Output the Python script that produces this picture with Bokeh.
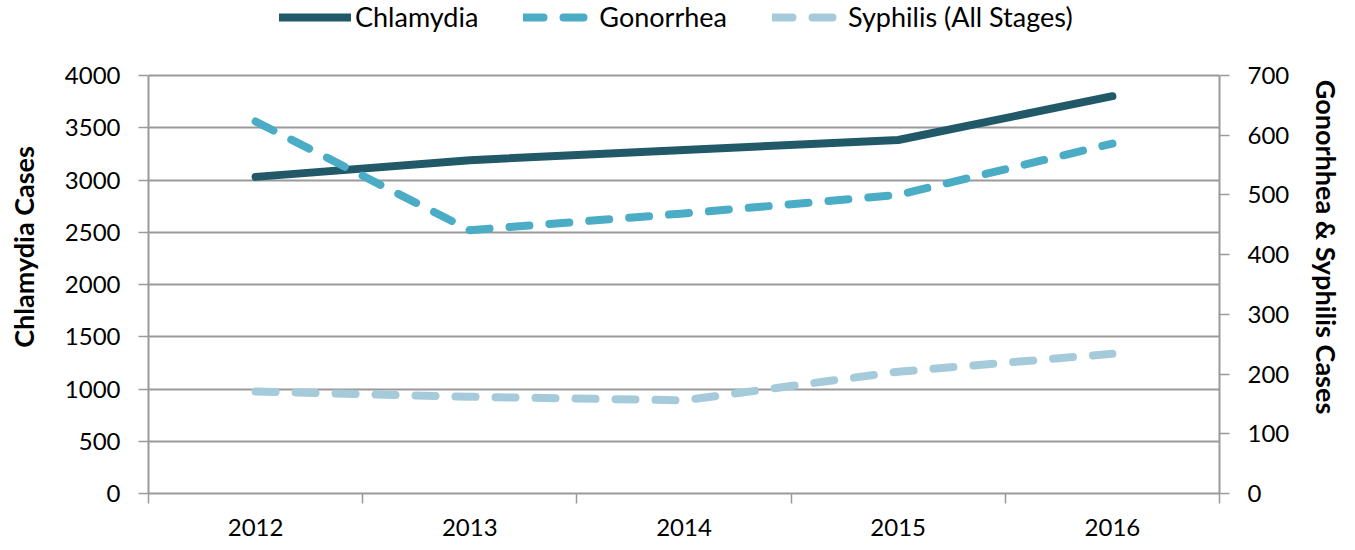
from bokeh.plotting import figure
from bokeh.models import Range1d, LinearAxis, FixedTicker, Legend, LegendItem
from bokeh.embed import file_html
from bokeh.resources import INLINE

years = ["2012", "2013", "2014", "2015", "2016"]
chlamydia = [3030, 3190, 3287, 3383, 3802]
gonorrhea = [623, 441, 469, 500, 586]
syphilis = [171, 162, 156, 204, 234]
left_ticks = [0, 500, 1000, 1500, 2000, 2500, 3000, 3500, 4000]
right_ticks = [0, 100, 200, 300, 400, 500, 600, 700]

x = list(range(1, len(years) + 1))
bounds = [v - 0.5 for v in x] + [x[-1] + 0.5]

FONT = "Lato"
AX = "#9a9a9a"

W, H = 1347, 542
LEFT, RIGHT, BOTTOM = 148, 1219, 493   # frame edges in px (frame top = 0)
DATA_TOP = 75                          # px where the top tick sits
LMAX, RMAX = left_ticks[-1], right_ticks[-1]
stretch = BOTTOM / (BOTTOM - DATA_TOP)

p = figure(width=W, height=H, x_range=Range1d(0.5, len(years) + 0.5),
           y_range=Range1d(0, LMAX * stretch), output_backend="svg",
           toolbar_location=None,
           min_border_left=LEFT, min_border_right=W - RIGHT,
           min_border_top=0, min_border_bottom=H - BOTTOM)
p.outline_line_color = None
p.extra_y_ranges = {"right": Range1d(0, RMAX * stretch)}

# x axis
xa = p.xaxis[0]
xa.ticker = FixedTicker(ticks=x, minor_ticks=bounds)
xa.major_label_overrides = {v: y for v, y in zip(x, years)}
xa.major_tick_out = 0
xa.major_tick_in = 0
xa.minor_tick_out = 10
xa.minor_tick_in = 0
xa.minor_tick_line_color = AX
xa.axis_line_color = AX
xa.axis_line_width = 2
xa.minor_tick_line_width = 1.5
xa.major_label_standoff = 15
xa.major_label_text_font = FONT
xa.major_label_text_font_size = "24px"
xa.major_label_text_color = "black"

# left axis
ya = p.yaxis[0]
ya.ticker = FixedTicker(ticks=left_ticks)
ya.bounds = (0, LMAX)
ya.minor_tick_line_color = None
ya.minor_tick_out = 0
ya.major_tick_out = 10
ya.major_tick_in = 0
ya.major_tick_line_color = AX
ya.major_tick_line_width = 1.5
ya.axis_line_color = AX
ya.axis_line_width = 2
ya.major_label_standoff = 18
ya.major_label_text_font = FONT
ya.major_label_text_font_size = "24px"
ya.major_label_text_color = "black"
ya.axis_label = "Chlamydia Cases"
ya.axis_label_text_font = FONT
ya.axis_label_text_font_style = "bold"
ya.axis_label_text_font_size = "27px"
ya.axis_label_text_color = "black"
ya.axis_label_standoff = 22

# right axis
ra = LinearAxis(y_range_name="right", ticker=FixedTicker(ticks=right_ticks))
ra.bounds = (0, RMAX)
ra.minor_tick_line_color = None
ra.minor_tick_out = 0
ra.major_tick_out = 10
ra.major_tick_in = 0
ra.major_tick_line_color = AX
ra.major_tick_line_width = 1.5
ra.axis_line_color = AX
ra.axis_line_width = 2
ra.major_label_standoff = 18
ra.major_label_text_font = FONT
ra.major_label_text_font_size = "24px"
ra.major_label_text_color = "black"
ra.axis_label = "Gonorhhea & Syphilis Cases"
ra.axis_label_text_font = FONT
ra.axis_label_text_font_style = "bold"
ra.axis_label_text_font_size = "27px"
ra.axis_label_text_color = "black"
ra.axis_label_standoff = 18
p.add_layout(ra, "right")

p.xgrid.grid_line_color = None
p.ygrid.grid_line_color = AX
p.ygrid.grid_line_width = 2
p.ygrid.ticker = FixedTicker(ticks=left_ticks)
p.ygrid.bounds = (0, LMAX)

r1 = p.line(x, chlamydia, line_color="#215968", line_width=8,
            line_cap="round", line_join="round")
r2 = p.line(x, gonorrhea, y_range_name="right", line_color="#4BACC6",
            line_width=8, line_dash="20 20", line_cap="round", line_join="round")
r3 = p.line(x, syphilis, y_range_name="right", line_color="#A5CBDA",
            line_width=8, line_dash="20 20", line_cap="round", line_join="round")

legend = Legend(items=[LegendItem(label="Chlamydia", renderers=[r1]),
                       LegendItem(label="Gonorrhea", renderers=[r2]),
                       LegendItem(label="Syphilis (All Stages)", renderers=[r3])],
                orientation="horizontal", location=(131, 460),
                glyph_width=72, glyph_height=20, label_standoff=4, spacing=45,
                padding=0, margin=0, border_line_color=None,
                background_fill_alpha=0,
                label_text_font=FONT, label_text_font_size="27px",
                label_text_color="black")
p.add_layout(legend)

open("out.html", "w").write(file_html(p, INLINE))
